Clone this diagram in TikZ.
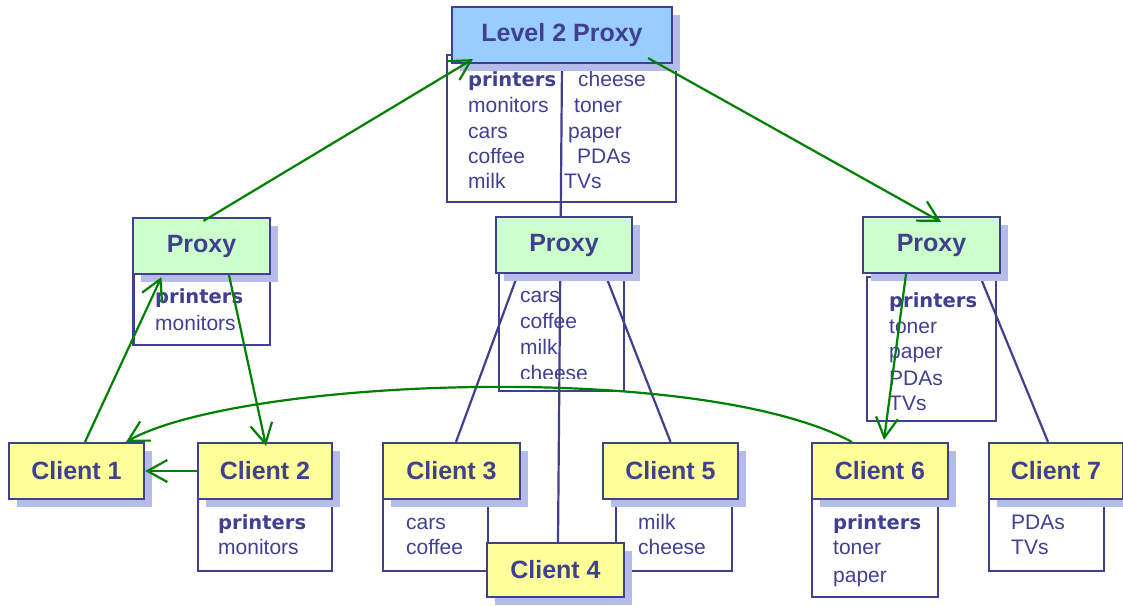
\documentclass[tikz,border=0pt]{standalone}
\usepackage{fontspec}
\usetikzlibrary{arrows.meta,shadows,calc}
\newfontfamily\dv{DejaVu Sans}
\newfontfamily\ls{Liberation Sans}
\definecolor{ink}{RGB}{64,64,144}
\definecolor{lvlblue}{RGB}{153,204,255}
\definecolor{pxgreen}{RGB}{204,255,204}
\definecolor{clyellow}{RGB}{255,255,153}
\definecolor{shadowc}{RGB}{182,188,234}
\definecolor{grn}{RGB}{0,128,0}
\pgfdeclarelayer{bg}
\pgfsetlayers{bg,main}
\tikzset{
  hdr/.style={draw=ink, line width=2.2pt, text=ink, inner sep=0pt,
    font=\ls\bfseries\fontsize{25}{29}\selectfont, minimum height=56pt,
    drop shadow={shadow xshift=8pt, shadow yshift=-8pt, fill=shadowc, opacity=1}},
  listbox/.style={draw=ink, line width=2.2pt, fill=white},
  item/.style={anchor=base west, inner sep=0pt, text=ink, font=\ls\fontsize{21}{25}\selectfont},
  bitem/.style={item, font=\dv\bfseries\fontsize{19.5}{23}\selectfont},
  link/.style={draw=ink, line width=2.2pt},
  garrow/.style={draw=grn, line width=2.2pt, -{Straight Barb[length=20pt,width=22pt,line width=2.2pt]}},
}
\begin{document}
\begin{tikzpicture}[x=1pt,y=-1pt]
\useasboundingbox (0,0) rectangle (1123,605);
% headers
\node[hdr, fill=lvlblue, minimum width=220pt] (l2) at (562,35) {Level 2 Proxy};
\node[hdr, fill=pxgreen, minimum width=137pt] (pl) at (201.5,246) {Proxy};
\node[hdr, fill=pxgreen, minimum width=136pt] (pm) at (564,245) {Proxy};
\node[hdr, fill=pxgreen, minimum width=137pt] (pr) at (931.5,245) {Proxy};
\node[hdr, fill=clyellow, minimum width=135pt] (c1) at (76.5,471) {Client 1};
\node[hdr, fill=clyellow, minimum width=134pt] (c2) at (265,471) {Client 2};
\node[hdr, fill=clyellow, minimum width=137pt] (c3) at (451.5,471) {Client 3};
\node[hdr, fill=clyellow, minimum width=137pt, minimum height=54pt] (c4) at (555.5,570) {Client 4};
\node[hdr, fill=clyellow, minimum width=135pt] (c5) at (670.5,471) {Client 5};
\node[hdr, fill=clyellow, minimum width=136pt] (c6) at (880,471) {Client 6};
\node[hdr, fill=clyellow, minimum width=134pt] (c7) at (1056,471) {Client 7};

\begin{pgfonlayer}{bg}
\fill[white] (0,0) rectangle (1123,605);
% list boxes
\draw[listbox] (447,55) rectangle (676,202);
\draw[listbox] (133.5,274) rectangle (270,345);
\draw[listbox] (499,273) rectangle (624,391);
\draw[listbox] (867,277) rectangle (996,421);
\draw[listbox] (198,499) rectangle (332,571);
\draw[listbox] (383,499) rectangle (488,571);
\draw[listbox] (616,499) rectangle (732,571);
\draw[listbox] (812,499) rectangle (938,597);
\draw[listbox] (989,499) rectangle (1104,571);
% list texts
\node[bitem] (t1) at (468,86) {printers};
\node[item] (t2) at (468,112) {monitors};
\node[item] (t3) at (468,138) {cars};
\node[item] (t4) at (468,163) {coffee};
\node[item] (t5) at (468,188) {milk};
\node[item] (t6) at (578,86) {cheese};
\node[item] (t7) at (574,112) {toner};
\node[item] (t8) at (568,138) {paper};
\node[item] (t9) at (577,163) {PDAs};
\node[item] (t10) at (564,188) {TVs};
\node[bitem] (t11) at (155,303) {printers};
\node[item] (t12) at (155,330) {monitors};
\begin{scope}
\clip (499,273) rectangle (624,378);
\node[item] (t13) at (520,302) {cars};
\node[item] (t14) at (520,328) {coffee};
\node[item] (t15) at (520,354) {milk};
\node[item] (t16) at (520,380) {cheese};
\end{scope}
\node[bitem] (t17) at (889,307) {printers};
\node[item] (t18) at (889,333) {toner};
\node[item] (t19) at (889,358) {paper};
\node[item] (t20) at (889,385) {PDAs};
\node[item] (t21) at (889,410) {TVs};
\node[bitem] (t22) at (218,529) {printers};
\node[item] (t23) at (218,554) {monitors};
\node[item] (t24) at (406,529) {cars};
\node[item] (t25) at (406,554) {coffee};
\node[item] (t26) at (638,529) {milk};
\node[item] (t27) at (638,554) {cheese};
\node[bitem] (t28) at (833,529) {printers};
\node[item] (t29) at (833,554) {toner};
\node[item] (t30) at (833,582) {paper};
\node[item] (t31) at (1011,529) {PDAs};
\node[item] (t32) at (1011,554) {TVs};
% blue links
\draw[link] (l2.south) -- ($(c4.north)+(2.5,0)$);
\draw[link] ($(pm.south west)+(23,0)$) -- ($(c3.north)+(4.5,0)$);
\draw[link] ($(pm.south east)+(-28,0)$) -- (c5.north);
\draw[link] ($(pr.south east)+(-22,0)$) -- ($(c7.north)+(-8,0)$);
\end{pgfonlayer}

% green arrows
\draw[garrow] ($(pl.north)+(2,4)$) -- ($(l2.south west)+(22,-5)$);
\draw[garrow] ($(l2.south east)+(-25,-6)$) -- ($(pr.north)+(9.5,6)$);
\draw[garrow] ($(c1.north)+(8.5,0)$) -- ($(pl.south west)+(29.5,2)$);
\draw[garrow] ($(pl.south)+(27.5,0)$) -- ($(c2.north)+(1,4)$);
\draw[garrow] (c2.west) -- (c1.east);
\draw[garrow] ($(pr.south)+(-25.5,0)$) -- ($(c6.north)+(4,-2)$);
\draw[garrow] ($(c6.north west)+(41,0)$) .. controls (700,360) and (240,378) .. ($(c1.north east)+(-19,0)$);
\end{tikzpicture}
\end{document}
